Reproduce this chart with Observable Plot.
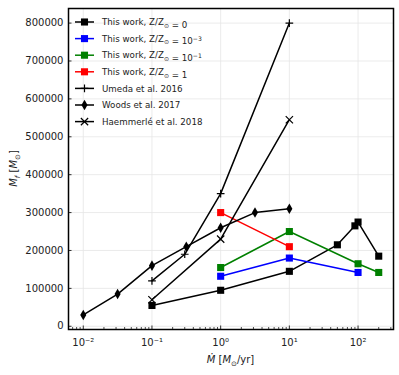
<!DOCTYPE html>
<html><head><meta charset="utf-8">
<script src="https://cdn.jsdelivr.net/npm/d3@7"></script>
<script src="https://cdn.jsdelivr.net/npm/@observablehq/plot@0.6"></script>
<style>body{margin:0;background:#fff;} #chart svg{font-family:"DejaVu Sans";}</style>
</head><body><div id="chart"></div>
<script>
// ---- data ----
const z0Rate = [0.1, 1, 10, 50, 90, 100, 200];
const z0Mass = [55000, 95000, 145000, 215000, 265000, 275000, 185000];
const z3Rate = [1, 10, 100];
const z3Mass = [132000, 180000, 142000];
const z1Rate = [1, 10, 100, 200];
const z1Mass = [155000, 250000, 165000, 142000];
const zsRate = [1, 10];
const zsMass = [300000, 210000];
const umedaRate = [0.1, 0.3, 1, 10];
const umedaMass = [120000, 190000, 350000, 800000];
const woodsRate = [0.01, 0.0316, 0.1, 0.316, 1, 3.16, 10];
const woodsMass = [30000, 85000, 160000, 210000, 260000, 300000, 310000];
const haemRate = [0.1, 1, 10];
const haemMass = [70000, 230000, 545000];

const xTicks = [0.01, 0.1, 1, 10, 100];
const xTickLabels = ["10⁻²", "10⁻¹", "10⁰", "10¹", "10²"];
const yTicks = [0, 100000, 200000, 300000, 400000, 500000, 600000, 700000, 800000];
const yTickLabels = ["0", "100000", "200000", "300000", "400000", "500000", "600000", "700000", "800000"];

const legendLabels = [
  ["This work, Z/Z", {sub: "⊙"}, " = 0"],
  ["This work, Z/Z", {sub: "⊙"}, " = 10", {sup: "−3"}],
  ["This work, Z/Z", {sub: "⊙"}, " = 10", {sup: "−1"}],
  ["This work, Z/Z", {sub: "⊙"}, " = 1"],
  ["Umeda et al. 2016"],
  ["Woods et al. 2017"],
  ["Haemmerlé et al. 2018"]
];
const seriesColors = ["#000000", "#0000ff", "#008000", "#ff0000", "#000000", "#000000", "#000000"];
const seriesSymbols = ["square", "square", "square", "square", "plus", "diamond", "times"];

// ---- build ----
const rates = [z0Rate, z3Rate, z1Rate, zsRate, umedaRate, woodsRate, haemRate];
const masses = [z0Mass, z3Mass, z1Mass, zsMass, umedaMass, woodsMass, haemMass];
const series = rates.map((r, i) => ({
  color: seriesColors[i], symbol: seriesSymbols[i], label: legendLabels[i],
  rows: r.map((x, j) => ({rate: x, mass: masses[i][j]}))
}));
const symR = {square: 4, plus: 2.6, diamond: 3.2, times: 3.4};
const xDomain = [10 ** -2.215, 10 ** 2.516];
const minorTicks = [];
for (let e = -3; e <= 2; e++) for (let k = 2; k <= 9; k++) {
  const v = k * 10 ** e;
  if (v > xDomain[0] && v < xDomain[1]) minorTicks.push(v);
}

const W = 399, H = 375, mt = 8, mr = 6, mb = 46, ml = 68;
const plotW = W - ml - mr, plotH = H - mt - mb;
const xMap = new Map(xTicks.map((d, i) => [d, xTickLabels[i]]));
const yMap = new Map(yTicks.map((d, i) => [d, yTickLabels[i]]));

const marks = [
  Plot.gridX(xTicks, {stroke: "#e6e6e6", strokeOpacity: 1, strokeWidth: 0.8}),
  Plot.gridY(yTicks, {stroke: "#e6e6e6", strokeOpacity: 1, strokeWidth: 0.8}),
  Plot.tickX(minorTicks, {x: d => d, stroke: "black", strokeWidth: 0.7, insetTop: plotH - 2}),
  Plot.tickX(xTicks, {x: d => d, stroke: "black", strokeWidth: 0.8, insetTop: plotH - 3.5}),
  Plot.tickY(yTicks, {y: d => d, stroke: "black", strokeWidth: 0.8, insetRight: plotW - 3.5}),
  Plot.axisX(xTicks, {tickSize: 0, tickPadding: 9, tickFormat: d => xMap.get(d), fontSize: 10, fill: "#222", label: null}),
  Plot.axisY(yTicks, {tickSize: 0, tickPadding: 5, tickFormat: d => yMap.get(d), fontSize: 10, fill: "#222", label: null})
];
for (const s of series) {
  marks.push(Plot.line(s.rows, {x: "rate", y: "mass", stroke: s.color, strokeWidth: 1.5}));
  const stroked = s.symbol === "plus" || s.symbol === "times";
  marks.push(Plot.dot(s.rows, {x: "rate", y: "mass", symbol: () => s.symbol, r: symR[s.symbol],
    fill: stroked ? "none" : s.color, stroke: stroked ? s.color : "none", strokeWidth: stroked ? 1.2 : 0}));
}
marks.push(Plot.frame({stroke: "black", strokeWidth: 1.5}));

const chart = Plot.plot({
  width: W, height: H, marginTop: mt, marginRight: mr, marginBottom: mb, marginLeft: ml,
  style: {fontFamily: "DejaVu Sans", fontSize: "10px", background: "white", color: "#222"},
  x: {type: "log", domain: xDomain, axis: null},
  y: {domain: [-8500, 838500], axis: null},
  symbol: {type: "identity"},
  marks
});
document.getElementById("chart").append(chart);

// ---- axis labels & legend (text) ----
const svg = d3.select(chart);
function addParts(text, parts, fs) {
  for (const p of parts) {
    if (typeof p === "string") text.append("tspan").text(p);
    else if (p.sub) { text.append("tspan").attr("dy", fs * 0.3).attr("font-size", fs * 0.7).text(p.sub); text.append("tspan").attr("dy", -fs * 0.3).text(""); }
    else if (p.sup) { text.append("tspan").attr("dy", -fs * 0.4).attr("font-size", fs * 0.7).text(p.sup); text.append("tspan").attr("dy", fs * 0.4).text(""); }
  }
}
// x label
const xl = svg.append("text").attr("x", ml + plotW / 2).attr("y", 363).attr("text-anchor", "middle")
  .attr("font-size", 10).attr("fill", "#222");
xl.append("tspan").attr("font-style", "italic").text("M\u0307");
xl.append("tspan").text(" [");
xl.append("tspan").attr("font-style", "italic").text("M");
xl.append("tspan").attr("dy", 3).attr("font-size", 7).text("⊙");
xl.append("tspan").attr("dy", -3).text("/yr]");
// y label
const yl = svg.append("text").attr("transform", `translate(17,${mt + plotH / 2}) rotate(-90)`).attr("text-anchor", "middle")
  .attr("font-size", 10).attr("fill", "#222");
yl.append("tspan").attr("font-style", "italic").text("M");
yl.append("tspan").attr("font-style", "italic").attr("dy", 3).attr("font-size", 7).text("f");
yl.append("tspan").attr("dy", -3).text(" [");
yl.append("tspan").attr("font-style", "italic").text("M");
yl.append("tspan").attr("dy", 3).attr("font-size", 7).text("⊙");
yl.append("tspan").attr("dy", -3).text("]");

// legend
const symTypes = {square: d3.symbolSquare, plus: d3.symbolPlus, diamond: d3.symbolDiamond, times: d3.symbolTimes};
const lg = svg.append("g");
series.forEach((s, i) => {
  const y = 22 + i * 16.6;
  lg.append("line").attr("x1", 75).attr("x2", 94).attr("y1", y).attr("y2", y).attr("stroke", s.color).attr("stroke-width", 1.5);
  const stroked = s.symbol === "plus" || s.symbol === "times";
  lg.append("path").attr("transform", `translate(84.5,${y})`)
    .attr("d", d3.symbol(symTypes[s.symbol], Math.PI * symR[s.symbol] ** 2)())
    .attr("fill", stroked ? "none" : s.color).attr("stroke", stroked ? s.color : "none").attr("stroke-width", 1.2);
  const t = lg.append("text").attr("x", 102).attr("y", y + 3.2).attr("text-anchor", "start")
    .attr("font-size", 8.7).attr("fill", "#222");
  addParts(t, s.label, 8.7);
});
</script>
</body></html>
